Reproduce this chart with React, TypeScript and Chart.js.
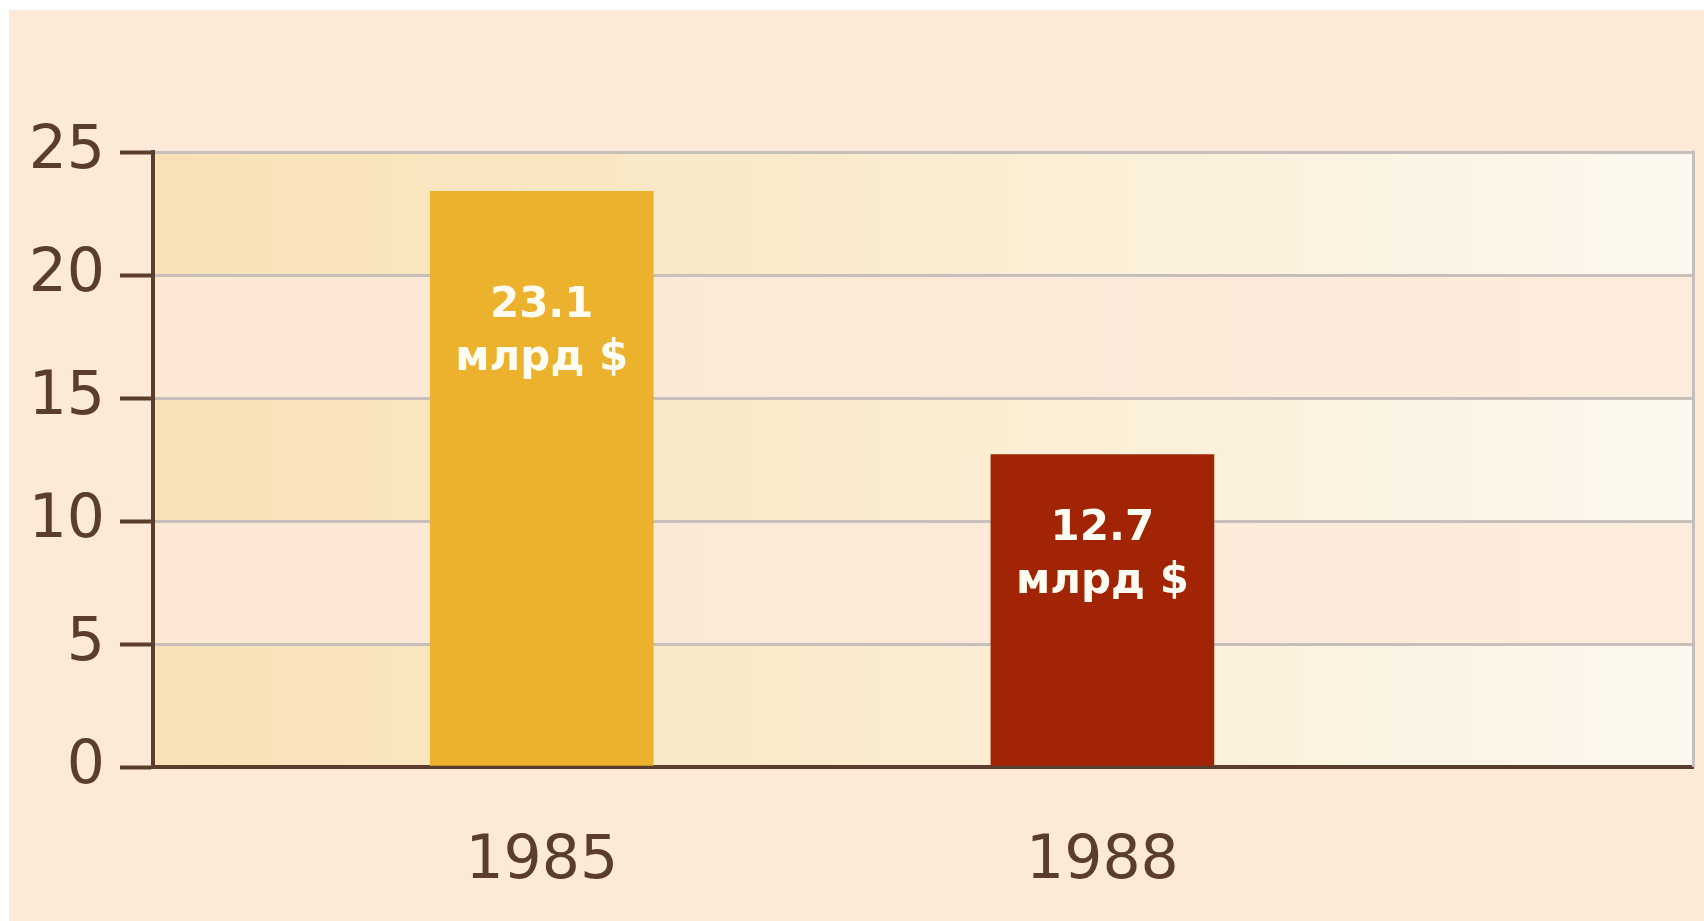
import React, { useEffect, useRef } from "react";
import { Chart, registerables } from "chart.js";

Chart.register(...registerables);

// ---- data ----
const years = [1985, 1988];
const values = [23.4, 12.7];
const valueLabels = ["23.1", "12.7"];
const unitLabel = "млрд $";
const yTickValues = [0, 5, 10, 15, 20, 25];

// ---- styling / layout ----
const barColors = ["#ECB22D", "#A12404"];
const X_MIN = 1982.92;
const X_MAX = 1991.16;
const LABEL_OFFSETS = [126, 85];
const LINE_GAP = 53;
const BROWN = "#5B3D2D";
const GRID = "#C6BFBC";
const PAGE_BG = "#FDE9D8";
const W = 1695;
const H = 911;

const bandsPlugin = {
  id: "bands",
  beforeDraw(chart: any) {
    const { ctx, chartArea: a, scales } = chart;
    const y = scales.y;
    ctx.save();
    for (let i = 0; i < yTickValues.length - 1; i++) {
      const y0 = y.getPixelForValue(yTickValues[i]);
      const y1 = y.getPixelForValue(yTickValues[i + 1]);
      const g = ctx.createLinearGradient(a.left, 0, a.right, 0);
      if (i % 2 === 0) {
        g.addColorStop(0, "#F8E1B5");
        g.addColorStop(0.5, "#FAECCF");
        g.addColorStop(1, "#FCF8EF");
      } else {
        g.addColorStop(0, "#FDE7D5");
        g.addColorStop(1, "#FDEBDB");
      }
      ctx.fillStyle = g;
      ctx.fillRect(a.left, y1, a.right - a.left, y0 - y1);
    }
    ctx.restore();
  },
  beforeDatasetsDraw(chart: any) {
    const { ctx, chartArea: a } = chart;
    ctx.save();
    ctx.strokeStyle = GRID;
    ctx.lineWidth = 3;
    ctx.beginPath();
    ctx.moveTo(a.right + 0.5, a.top - 1.5);
    ctx.lineTo(a.right + 0.5, a.bottom);
    ctx.stroke();
    ctx.restore();
  },
};

const labelsPlugin = {
  id: "barLabels",
  afterDatasetsDraw(chart: any) {
    const { ctx } = chart;
    const meta = chart.getDatasetMeta(0);
    ctx.save();
    ctx.font = 'bold 42px "DejaVu Sans"';
    ctx.fillStyle = "#FFFCF2";
    ctx.textAlign = "center";
    ctx.textBaseline = "alphabetic";
    meta.data.forEach((bar: any, i: number) => {
      const base = bar.y + LABEL_OFFSETS[i];
      ctx.fillText(valueLabels[i], bar.x, base);
      ctx.fillText(unitLabel, bar.x, base + LINE_GAP);
    });
    ctx.restore();
  },
};

export default function App() {
  const ref = useRef<HTMLCanvasElement | null>(null);

  useEffect(() => {
    if (!ref.current) return;
    const chart = new Chart(ref.current, {
      type: "bar",
      data: {
        datasets: [
          {
            data: years.map((yr, i) => ({ x: yr, y: values[i] })) as any,
            backgroundColor: barColors,
            borderWidth: 0,
            barThickness: 223,
          },
        ],
      },
      options: {
        responsive: false,
        animation: false,
        layout: { padding: { top: 142, right: 11, left: 0, bottom: 0 } },
        plugins: {
          legend: { display: false },
          tooltip: { enabled: false },
        },
        scales: {
          x: {
            type: "linear",
            min: X_MIN,
            max: X_MAX,
            offset: false,
            bounds: "ticks",
            z: 1,
            afterBuildTicks: (s: any) => {
              s.ticks = years.map((v) => ({ value: v }));
            },
            grid: { display: false, offset: false },
            border: { display: true, color: BROWN, width: 4 },
            ticks: {
              callback: (v: any) => String(v),
              color: BROWN,
              font: { family: '"DejaVu Sans"', size: 60 },
              padding: 51,
              maxRotation: 0,
            },
            afterFit: (s: any) => {
              s.height = 154;
            },
          },
          y: {
            min: 0,
            max: 25,
            afterBuildTicks: (s: any) => {
              s.ticks = yTickValues.map((v) => ({ value: v }));
            },
            grid: {
              color: (c: any) =>
                c.tick && c.tick.value === 0 ? "rgba(0,0,0,0)" : GRID,
              lineWidth: 3,
              tickColor: BROWN,
              tickWidth: 4,
              tickLength: 33,
              drawTicks: true,
            },
            border: { display: true, color: BROWN, width: 4 },
            ticks: {
              color: BROWN,
              font: { family: '"DejaVu Sans"', size: 60 },
              padding: 15,
            },
            afterFit: (s: any) => {
              s.width = 144;
            },
          },
        },
      } as any,
      plugins: [bandsPlugin, labelsPlugin],
    });
    return () => chart.destroy();
  }, []);

  return (
    <div
      style={{
        position: "absolute",
        left: 9,
        top: 10,
        width: W,
        height: H,
        background: PAGE_BG,
        overflow: "hidden",
      }}
    >
      <canvas ref={ref} width={W} height={H} style={{ display: "block" }} />
    </div>
  );
}
